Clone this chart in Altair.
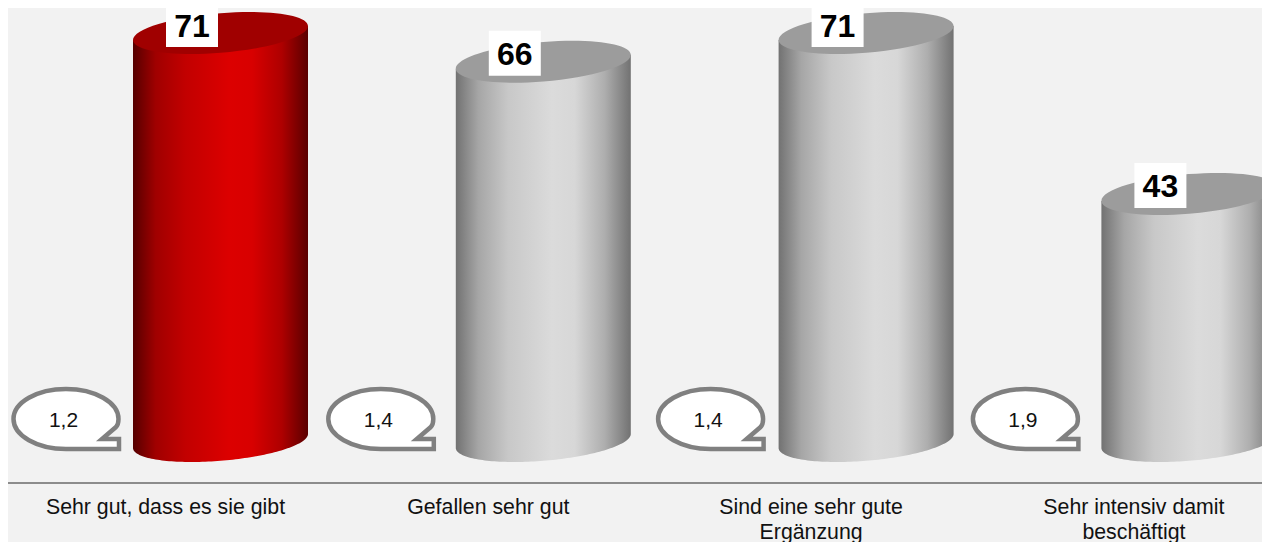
import math
import altair as alt
import pandas as pd

categories = ["Sehr gut, dass es sie gibt", "Gefallen sehr gut",
              "Sind eine sehr gute Ergänzung", "Sehr intensiv damit beschäftigt"]
label_lines = [["Sehr gut, dass es sie gibt"], ["Gefallen sehr gut"],
               ["Sind eine sehr gute", "Ergänzung"], ["Sehr intensiv damit", "beschäftigt"]]
values = [71, 66, 71, 43]
bubble_values = ["1,2", "1,4", "1,4", "1,9"]

# ---- layout (pixels of the drawing surface) ----
W, H = 1254, 534
PX_PER_UNIT = 5.746
ZERO_PX = 433
CYL_X0, CYL_STEP = 212.5, 322.8
HALF_W_PX, TILT_PX, MINOR_PX = 87.5, 7.0, 19.8
bubble_offset_px = [-154.5, -162.5, -155.5, -163.5]

x_scale = alt.Scale(domain=[-CYL_X0 / CYL_STEP, (W - CYL_X0) / CYL_STEP], range=[0, W], nice=False, zero=False)
y_scale = alt.Scale(domain=[(ZERO_PX - H) / PX_PER_UNIT, ZERO_PX / PX_PER_UNIT], range=[H, 0], nice=False, zero=False)
X = alt.X("pos:Q", scale=x_scale, axis=None)
Y = alt.Y("v:Q", scale=y_scale, axis=None)
Y2 = alt.Y2("v2:Q")

half_w = HALF_W_PX / CYL_STEP
tilt = TILT_PX / PX_PER_UNIT
minor = MINOR_PX / PX_PER_UNIT


def body_frame(i, value):
    rows = []
    n = 90
    for k in range(n + 1):
        # cosine spacing puts more points near the steep ends of the bottom curve
        t = -math.cos(math.pi * k / n)
        top = value + t * tilt
        bottom = t * tilt - minor * math.sqrt(max(0.0, 1 - t * t))
        rows.append({"pos": i + t * half_w, "v": top, "v2": bottom})
    return pd.DataFrame(rows)


base = pd.DataFrame({"pos": range(4), "v": values, "cat": categories})

# tilted ellipse as a unit-square glyph
C = 0.5523
S = TILT_PX / HALF_W_PX
B = MINOR_PX / HALF_W_PX


def pt(cx, sy):
    return f"{cx:.4f},{(-S * cx + B * sy):.4f}"


ellipse_path = (
    f"M{pt(-1, 0)} C{pt(-1, C)} {pt(-C, 1)} {pt(0, 1)} "
    f"C{pt(C, 1)} {pt(1, C)} {pt(1, 0)} "
    f"C{pt(1, -C)} {pt(C, -1)} {pt(0, -1)} "
    f"C{pt(-C, -1)} {pt(-1, -C)} {pt(-1, 0)} Z"
)
ELLIPSE_SIZE = (2 * HALF_W_PX) ** 2


def gradient(stops):
    return alt.Gradient(gradient="linear", x1=0, y1=0, x2=1, y2=0,
                        stops=[alt.GradientStop(offset=o, color=c) for o, c in stops])


red_grad = gradient([(0, "#560000"), (0.13, "#a00000"), (0.3, "#c20000"), (0.55, "#dc0000"),
                     (0.68, "#d80000"), (0.85, "#ae0000"), (1, "#5a0000")])
grey_grad = gradient([(0, "#727272"), (0.13, "#a6a6a6"), (0.3, "#c8c8c8"), (0.55, "#dbdbdb"),
                      (0.68, "#d7d7d7"), (0.85, "#aeaeae"), (1, "#727272")])

body_layers = [
    alt.Chart(body_frame(i, v)).mark_area(color=red_grad if i == 0 else grey_grad).encode(x=X, y=Y, y2=Y2)
    for i, v in enumerate(values)
]

tops = alt.Chart(base).mark_point(shape=ellipse_path, filled=True, opacity=1, size=ELLIPSE_SIZE).encode(
    x=X, y=Y,
    fill=alt.Fill("cat:N", scale=alt.Scale(domain=categories, range=["#a00000", "#9c9c9c", "#9c9c9c", "#9c9c9c"]), legend=None),
)

value_box = alt.Chart(base).mark_point(
    shape="M-1,-0.865 L1,-0.865 L1,0.865 L-1,0.865 Z", filled=True, fill="white", opacity=1,
    size=52 ** 2, xOffset=-28.5, yOffset=-8.5).encode(x=X, y=Y)
value_text = alt.Chart(base).mark_text(
    font="Liberation Sans", fontSize=32, fontWeight="bold", color="black",
    dx=-28.5, dy=-6.5).encode(x=X, y=Y, text=alt.Text("v:Q"))

# speech bubble
R = 55.0
a, b = 52.5, 30.0
kx, ky = C * a, C * b


def p(x, y):
    return f"{x / R:.4f},{y / R:.4f}"


bubble_path = (
    f"M{p(0, b)} C{p(-kx, b)} {p(-a, ky)} {p(-a, 0)} "
    f"C{p(-a, -ky)} {p(-kx, -b)} {p(0, -b)} "
    f"C{p(kx, -b)} {p(a, -ky)} {p(a, 0)} "
    f"C{p(a, 3)} {p(52, 6)} {p(50, 8)} "
    f"L{p(36, 20)} L{p(53, 20)} L{p(53, b)} Z"
)
bubble_y = (ZERO_PX - 411) / PX_PER_UNIT
bub = pd.DataFrame({
    "pos": [i + o / CYL_STEP for i, o in enumerate(bubble_offset_px)],
    "v": [bubble_y] * 4,
    "txt": bubble_values,
})
bubbles = alt.Chart(bub).mark_point(
    shape=bubble_path, filled=True, fill="white", stroke="#808080", strokeWidth=4.5, opacity=1,
    size=(2 * R) ** 2).encode(x=X, y=Y)
bubble_text = alt.Chart(bub).mark_text(
    font="Liberation Sans", fontSize=21, color="#111111", dx=-2.5, dy=2).encode(x=X, y=Y, text="txt:N")

# baseline rule and category labels
rule = alt.Chart(pd.DataFrame({"v": [(ZERO_PX - 475) / PX_PER_UNIT]})).mark_rule(
    color="#8c8c8c", strokeWidth=2).encode(y=Y)

lab_rows = []
for i, lines in enumerate(label_lines):
    lab_rows.append({"pos": i - 55 / CYL_STEP, "v": (ZERO_PX - 489) / PX_PER_UNIT, "txt": lines})
labels = alt.Chart(pd.DataFrame(lab_rows)).mark_text(
    font="Liberation Sans", fontSize=21.3, color="#111111", baseline="top", align="center", lineHeight=25,
).encode(x=X, y=Y, text="txt:N")

chart = alt.layer(
    rule, *body_layers, tops, value_box, value_text, bubbles, bubble_text, labels
).resolve_scale(x="shared", y="shared").properties(
    width=W, height=H, background="#f2f2f2", padding=0,
    autosize=alt.AutoSizeParams(type="none"),
).configure_view(stroke=None)

chart.save("out.html", embed_options={"renderer": "svg", "actions": False})
